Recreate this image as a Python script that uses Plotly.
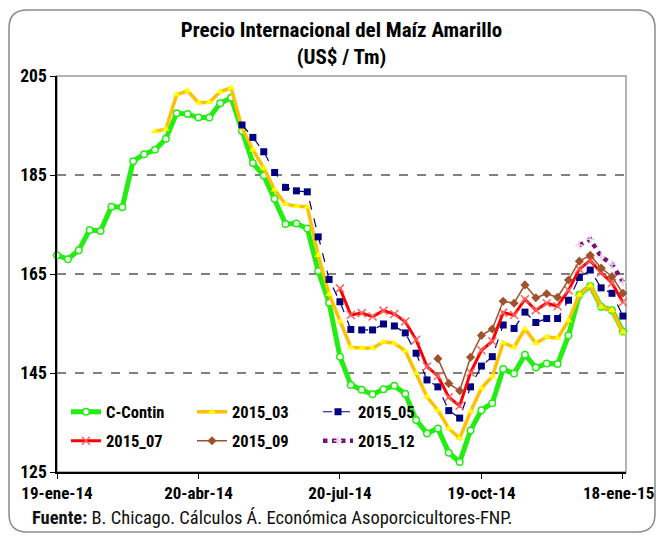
import plotly.graph_objects as go
import pandas as pd

# ---------------- data ----------------
week_dates = pd.date_range("2014-01-19", periods=53, freq="7D")

c_contin = [168.8, 168.0, 169.8, 173.9, 173.7, 178.6, 178.5, 187.8, 189.2, 190.1,
            192.3, 197.5, 197.3, 196.6, 196.6, 199.5, 200.6, 193.9, 187.4, 184.9,
            180.2, 175.1, 175.2, 174.2, 165.6, 159.2, 148.3, 142.6, 141.6, 140.7,
            141.7, 142.4, 140.8, 135.5, 132.8, 133.8, 128.9, 127.0, 133.4, 137.5,
            138.9, 145.8, 144.9, 148.7, 146.1, 146.9, 146.8, 152.6, 160.8, 162.6,
            158.4, 157.7, 153.4]

f2015_03_start = 9
f2015_03 = [193.8, 194.3, 201.2, 202.0, 199.6, 199.7, 201.8, 202.6, 194.5, 190.1,
            186.4, 182.0, 179.1, 178.7, 178.6, 168.8, 160.9, 155.4, 150.2, 150.0,
            150.0, 151.3, 151.0, 149.5, 145.0, 140.2, 137.5, 133.8, 131.8, 137.2,
            141.9, 144.3, 151.1, 150.2, 153.9, 151.0, 152.3, 152.0, 155.6, 160.8,
            162.7, 158.4, 157.7, 153.2]

f2015_05_start = 17
f2015_05 = [195.1, 192.6, 189.7, 185.5, 182.5, 181.8, 181.6, 172.5, 163.9, 159.4,
            153.8, 153.7, 153.7, 154.9, 154.5, 153.1, 149.0, 143.6, 142.2, 137.4,
            135.9, 142.2, 146.4, 148.3, 154.7, 154.0, 157.3, 155.2, 156.0, 156.0,
            159.7, 164.3, 165.8, 162.2, 161.1, 156.5]

f2015_07_start = 26
f2015_07 = [162.1, 156.7, 157.1, 156.4, 157.6, 156.9, 155.4, 151.7, 146.3, 144.4,
            140.1, 138.4, 145.1, 149.6, 151.4, 157.2, 156.7, 159.9, 157.7, 159.1,
            158.5, 161.7, 166.0, 167.7, 165.3, 163.2, 159.3]

f2015_09_start = 35
f2015_09 = [147.9, 142.9, 141.4, 148.2, 152.6, 153.9, 159.5, 159.1, 162.8, 160.2,
            161.0, 160.3, 163.8, 167.6, 168.8, 166.2, 164.5, 161.1]

f2015_12_start = 48
f2015_12 = [170.8, 172.0, 168.5, 167.0, 163.4]

y_ticks = [125, 145, 165, 185, 205]
x_tick_dates = ["2014-01-19", "2014-04-20", "2014-07-20", "2014-10-19", "2015-01-18"]
x_tick_labels = ["19-ene-14", "20-abr-14", "20-jul-14", "19-oct-14", "18-ene-15"]

# ---------------- figure ----------------
OFF = 8                      # page body margin
W, H = 664 - 2 * OFF, 541 - 2 * OFF
L, R, T, B = 57, 626, 76, 472   # plot area in window pixels
FONT = "Liberation Sans Narrow, Arial Narrow, Roboto Condensed, Liberation Sans, sans-serif"


def px2x(px):
    return (px - L) / (R - L)


def py2y(py):
    return (B - py) / (B - T)


fig = go.Figure()


def add(name, start, vals, line, marker, legend):
    fig.add_trace(go.Scatter(
        x=week_dates[start:start + len(vals)], y=vals, name=name,
        mode="lines+markers", line=line, marker=marker, cliponaxis=False,
        legend=legend))


add("C-Contin", 0, c_contin,
    dict(color="#22ee11", width=5),
    dict(symbol="circle", size=6.5, color="white", line=dict(color="#22ee11", width=1.5)),
    "legend")
add("2015_03", f2015_03_start, f2015_03,
    dict(color="#ffc000", width=3.5),
    dict(symbol="triangle-up", size=7, color="#ffff00", line=dict(width=0)),
    "legend")
add("2015_05", f2015_05_start, f2015_05,
    dict(color="#000080", width=1.2, dash="dash"),
    dict(symbol="square", size=7, color="#000080"),
    "legend")
add("2015_07", f2015_07_start, f2015_07,
    dict(color="#ff0000", width=3),
    dict(symbol="x-thin", size=8, color="#ff3030", line=dict(color="#ff6060", width=1.5)),
    "legend2")
add("2015_09", f2015_09_start, f2015_09,
    dict(color="#a0522d", width=1.5),
    dict(symbol="diamond", size=7, color="#a0522d"),
    "legend2")
add("2015_12", f2015_12_start, f2015_12,
    dict(color="#7a107a", width=4.5, dash="dot"),
    dict(symbol="cross-thin", size=6, color="#e8d0f0", line=dict(color="#e8d0f0", width=1.5)),
    "legend2")

# rounded outer border (window pixel coords)
x0, y0, x1, y1, r = 9, 10, 655, 532, 18
pts = lambda px, py: f"{px2x(px):.5f},{py2y(py):.5f}"
path = (f"M {pts(x0 + r, y0)} L {pts(x1 - r, y0)} Q {pts(x1, y0)} {pts(x1, y0 + r)} "
        f"L {pts(x1, y1 - r)} Q {pts(x1, y1)} {pts(x1 - r, y1)} "
        f"L {pts(x0 + r, y1)} Q {pts(x0, y1)} {pts(x0, y1 - r)} "
        f"L {pts(x0, y0 + r)} Q {pts(x0, y0)} {pts(x0 + r, y0)} Z")

legend_common = dict(orientation="h", x=px2x(66), xanchor="left", yanchor="middle",
                     entrywidth=81, entrywidthmode="pixels", bgcolor="rgba(0,0,0,0)",
                     font=dict(size=16.5, family=FONT, weight="bold", color="black"),
                     traceorder="normal")

tick_font = dict(size=17, family=FONT, weight="bold", color="black")

fig.update_layout(
    width=W, height=H,
    margin=dict(l=L - OFF, r=W - (R - OFF), t=T - OFF, b=H - (B - OFF), autoexpand=False),
    paper_bgcolor="white", plot_bgcolor="white",
    font=dict(family=FONT, color="black"),
    title=dict(text="Precio Internacional del Maíz Amarillo<br>(US$ / Tm)",
               x=0.5, xref="paper", xanchor="center",
               y=1 - (37 - OFF) / H, yref="container", yanchor="middle",
               font=dict(size=21, family=FONT, weight="bold", color="black")),
    xaxis=dict(type="date", range=["2014-01-19", "2015-01-20"], automargin=False,
               tickvals=x_tick_dates, ticktext=x_tick_labels[:-1] + [""],
               ticks="outside", ticklen=5, tickcolor="black", tickwidth=1.2,
               showline=True, linecolor="black", linewidth=1.5,
               showgrid=False, zeroline=False, tickfont=tick_font),
    yaxis=dict(range=[125, 205], tickvals=y_ticks, automargin=False,
               ticks="outside", ticklen=5, tickcolor="black", tickwidth=1.2,
               showline=True, linecolor="black", linewidth=1.5,
               showgrid=True, gridcolor="#808080", gridwidth=1.5, griddash="dash",
               zeroline=False,
               tickfont=dict(size=17.5, family=FONT, weight="bold", color="black")),
    legend=dict(legend_common, y=py2y(412)),
    legend2=dict(legend_common, y=py2y(441)),
    shapes=[
        dict(type="rect", xref="paper", yref="paper", x0=0, x1=1, y0=0, y1=1,
             line=dict(color="#9a9a9a", width=1.5), layer="below"),
        dict(type="path", xref="paper", yref="paper", path=path,
             line=dict(color="#8a8a8a", width=1.5), layer="below"),
    ],
    annotations=[
        dict(text="<b>Fuente:</b> B. Chicago. Cálculos Á. Económica Asoporcicultores-FNP.",
             xref="paper", yref="paper", x=px2x(30), y=py2y(518),
             xanchor="left", yanchor="middle", showarrow=False,
             font=dict(size=18.5, family=FONT, color="#111111")),
        # last date label, kept inside the page edge
        dict(text=x_tick_labels[-1], xref="paper", yref="paper",
             x=px2x(656), y=py2y(493), xanchor="right", yanchor="middle",
             showarrow=False, font=tick_font),
    ],
)

fig.write_html("out.html")
